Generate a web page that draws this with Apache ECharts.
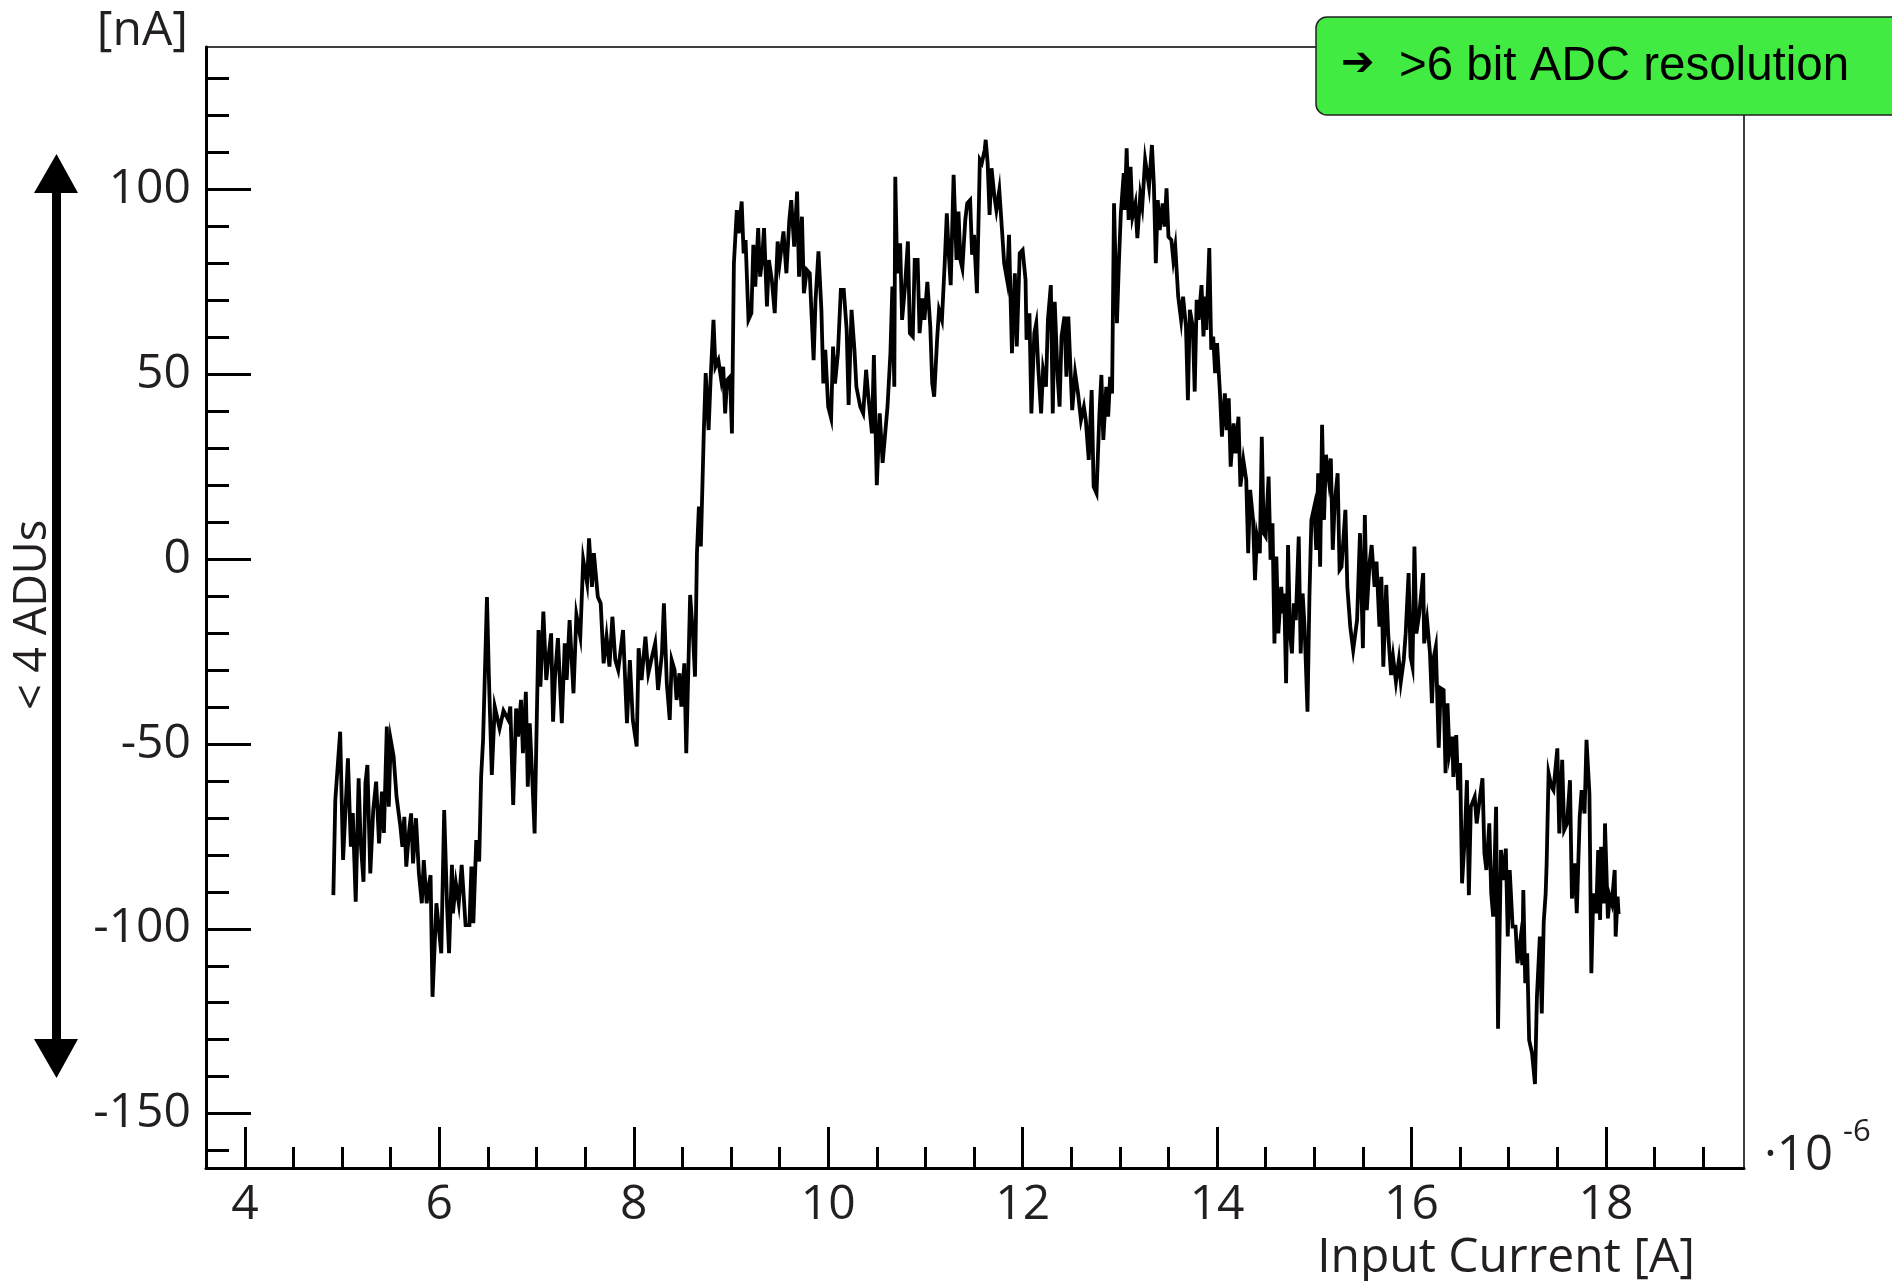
<!DOCTYPE html>
<html>
<head>
<meta charset="utf-8">
<script src="https://cdn.jsdelivr.net/npm/echarts@6/dist/echarts.min.js"></script>
<style>
  html, body { margin: 0; padding: 0; background: #fff; }
  #chart { width: 1892px; height: 1281px; }
</style>
</head>
<body>
<div id="chart"></div>
<script>
// Measured deviation [nA] versus input current [A, x1e-6]
const trace = [
  [4.91,-90.9],[4.93,-65.2],[4.98,-46.7],[5.01,-81.4],[5.06,-53.9],[5.09,-77.8],[5.11,-68.7],[5.14,-92.7],[5.17,-59.3],[5.19,-76],
  [5.22,-87.3],[5.24,-60.6],[5.26,-55.7],[5.29,-85],[5.32,-67.9],[5.35,-60.2],[5.38,-76.9],[5.41,-62.9],[5.43,-74.1],[5.46,-45.3],
  [5.48,-67],[5.50,-48.9],[5.53,-53.4],[5.56,-64.3],[5.60,-72.4],[5.62,-77.8],[5.64,-69.7],[5.66,-83.2],[5.69,-73.3],[5.71,-68.8],
  [5.73,-82.3],[5.76,-70.1],[5.79,-85],[5.82,-93.1],[5.84,-81.4],[5.87,-93.1],[5.89,-88.6],[5.91,-85.5],[5.93,-118.4],[5.97,-93.1],
  [6.00,-101.2],[6.02,-106.6],[6.05,-67.9],[6.08,-94],[6.10,-106.6],[6.13,-82.7],[6.14,-95.8],[6.17,-87.7],[6.20,-93.1],[6.23,-82.7],
  [6.27,-99],[6.31,-99],[6.33,-83.2],[6.35,-98.5],[6.38,-76],[6.41,-81.8],[6.43,-58.9],[6.45,-48.9],[6.49,-10.3],[6.51,-32],
  [6.54,-58.4],[6.57,-39.9],[6.62,-45.8],[6.66,-41],[6.71,-43.5],[6.73,-39.9],[6.76,-66.5],[6.79,-40.4],[6.81,-48],[6.84,-38.1],
  [6.86,-52.5],[6.89,-35.9],[6.91,-61.6],[6.93,-44.4],[6.96,-61.6],[6.98,-74.2],[7.02,-19.2],[7.04,-34.5],[7.07,-14.2],[7.10,-32.7],
  [7.12,-27.3],[7.15,-20.1],[7.17,-44],[7.19,-31.8],[7.22,-21.4],[7.26,-44.4],[7.29,-22.8],[7.31,-32.7],[7.34,-16.5],[7.38,-36.3],
  [7.41,-15.1],[7.45,-21],[7.48,-0.2],[7.52,-6.5],[7.54,5.6],[7.57,-7.5],[7.59,1.6],[7.63,-10.2],[7.66,-12],[7.69,-28.2],
  [7.72,-21],[7.75,-29.1],[7.78,-15.6],[7.81,-27.3],[7.84,-30],[7.89,-19.2],[7.93,-44.4],[7.96,-27.3],[7.99,-43.5],[8.03,-50.7],
  [8.05,-24.1],[8.08,-32.7],[8.12,-21],[8.15,-30.9],[8.18,-27.3],[8.22,-22.8],[8.25,-35.4],[8.29,-25.5],[8.31,-12],[8.34,-33.6],
  [8.37,-43.5],[8.39,-27.3],[8.42,-30],[8.44,-38.1],[8.47,-30.9],[8.49,-39.9],[8.52,-28.2],[8.54,-52.5],[8.58,-9.7],[8.61,-21],
  [8.63,-31.8],[8.65,1.6],[8.67,14.2],[8.69,3.4],[8.72,34],[8.74,50.3],[8.77,34.9],[8.79,48.4],[8.82,64.7],[8.84,52],
  [8.87,53.8],[8.90,48.4],[8.92,52],[8.94,39.4],[8.96,48.4],[8.99,49.3],[9.01,34],[9.03,80],[9.06,94.4],[9.08,88.1],
  [9.11,96.7],[9.13,82.7],[9.15,86.3],[9.18,64.7],[9.21,66.5],[9.23,85],[9.25,73.7],[9.28,89.5],[9.30,76.4],[9.32,80.9],
  [9.34,89.5],[9.37,68.3],[9.39,80.9],[9.42,75.5],[9.45,66.5],[9.48,85.9],[9.50,80],[9.54,88.6],[9.57,77.3],[9.60,91.7],
  [9.62,97.1],[9.65,84.5],[9.68,99.4],[9.70,76.4],[9.73,92.6],[9.75,71.9],[9.78,78.2],[9.81,77.3],[9.85,53.8],[9.87,70.1],
  [9.90,83.2],[9.93,67.4],[9.95,47.5],[9.97,56.6],[10.00,41.2],[10.03,38.1],[10.05,57.5],[10.07,47.5],[10.10,55.7],[10.13,72.8],
  [10.16,72.8],[10.19,62],[10.21,41.7],[10.24,67.4],[10.27,56.6],[10.29,46.6],[10.33,41.2],[10.36,39.4],[10.39,51.2],[10.41,44.8],
  [10.45,34],[10.47,55.2],[10.50,20],[10.53,39.4],[10.56,26],[10.61,41.2],[10.64,55.7],[10.66,73.7],[10.68,46.6],[10.69,103.4],
  [10.71,77.3],[10.74,85.4],[10.76,64.7],[10.79,73.7],[10.82,85.9],[10.84,61.1],[10.87,60.2],[10.89,80.9],[10.92,80.9],[10.94,61.1],
  [10.97,70.5],[10.99,64.7],[11.02,75],[11.05,62.9],[11.07,47.5],[11.09,43.9],[11.12,59.3],[11.14,67.4],[11.17,64.7],[11.20,80.9],
  [11.22,93.5],[11.24,82.7],[11.26,74.1],[11.29,103.9],[11.32,80.9],[11.34,94],[11.36,80.9],[11.38,78.6],[11.41,91.7],[11.43,96.2],
  [11.46,97.1],[11.48,82.3],[11.50,87.7],[11.53,71.9],[11.56,108],[11.58,107.1],[11.61,110.7],[11.62,113.4],[11.64,107.1],[11.66,93.1],
  [11.68,105.7],[11.71,98],[11.73,94.4],[11.76,99.8],[11.79,88.1],[11.81,80],[11.84,75.5],[11.86,87.7],[11.89,55.7],[11.92,77.3],
  [11.94,57.5],[11.97,82.7],[12.00,83.6],[12.03,75.5],[12.04,59.3],[12.07,66.5],[12.09,39.4],[12.12,61.1],[12.14,63.8],[12.16,52],
  [12.19,39.4],[12.21,51.2],[12.24,46.6],[12.26,64.7],[12.29,74.1],[12.31,39.4],[12.33,69.6],[12.36,49.3],[12.38,41.2],[12.40,60.2],
  [12.43,65.6],[12.45,49.3],[12.47,65.6],[12.51,40.3],[12.54,50.3],[12.57,44.8],[12.60,37.6],[12.63,41.2],[12.65,37.6],[12.68,26.8],
  [12.71,45.7],[12.73,19.6],[12.76,17.8],[12.79,39.4],[12.81,49.8],[12.83,32.2],[12.86,46.6],[12.88,38.5],[12.90,49.3],[12.92,44.8],
  [12.94,96.2],[12.97,63.8],[12.99,80],[13.01,93.5],[13.04,104.4],[13.05,94.4],[13.07,111.1],[13.09,91.7],[13.11,106.1],[13.13,92.6],
  [13.16,96.2],[13.18,86.8],[13.21,98.5],[13.23,95.3],[13.26,108],[13.28,104.4],[13.30,100.7],[13.33,112],[13.35,101.2],[13.37,80],
  [13.39,97.1],[13.41,89],[13.44,96.2],[13.46,89.9],[13.48,100.3],[13.50,87.2],[13.53,86.3],[13.55,80.9],[13.57,84.5],[13.60,71],
  [13.63,64.7],[13.65,71],[13.68,62.9],[13.70,43],[13.72,67.4],[13.75,62.9],[13.77,45.3],[13.79,70.1],[13.81,64.7],[13.84,74.1],
  [13.86,60.2],[13.88,71],[13.89,62],[13.92,84.1],[13.94,56.6],[13.96,60.2],[13.98,50.3],[14.00,58.4],[14.03,44.8],[14.05,33.1],
  [14.08,44.8],[14.10,34.9],[14.12,43.5],[14.14,25],[14.17,36.7],[14.19,28.6],[14.22,38.5],[14.24,19.6],[14.27,26.8],[14.30,21.4],
  [14.32,1.6],[14.34,18.7],[14.37,10.6],[14.39,-5.7],[14.41,6.1],[14.44,1.6],[14.46,33.1],[14.48,7],[14.50,6.1],[14.53,22.3],
  [14.55,-0.2],[14.57,9.7],[14.59,-22.8],[14.61,0.7],[14.63,-20.1],[14.66,-7.5],[14.68,-14.7],[14.69,-9.3],[14.71,-33.6],[14.73,3.8],
  [14.75,-20.1],[14.77,-25.5],[14.79,-12],[14.81,-16.5],[14.84,6.1],[14.86,-25.5],[14.88,-9.3],[14.90,-18.3],[14.93,-41.3],[14.95,-10.2],
  [14.97,10.6],[15.00,14.2],[15.02,2.5],[15.04,23.2],[15.06,-2.1],[15.08,36.3],[15.10,10.6],[15.12,28.2],[15.15,21.4],[15.17,27.2],
  [15.19,2.5],[15.21,15.1],[15.24,23.2],[15.26,-2.9],[15.28,-2.1],[15.32,13.3],[15.34,-7.5],[15.37,-18.3],[15.40,-24.6],[15.44,-16.5],
  [15.47,7],[15.50,-24.1],[15.52,11.9],[15.54,-13.8],[15.57,-0.7],[15.59,3.8],[15.62,-7.5],[15.64,-0.7],[15.67,-18.3],[15.69,-4.8],
  [15.71,-29.1],[15.74,-7],[15.76,-20.1],[15.79,-31.4],[15.81,-26.4],[15.84,-33.2],[15.87,-27.3],[15.89,-33.2],[15.92,-27.3],[15.94,-20.1],
  [15.97,-3.8],[15.99,-26.4],[16.01,-29.1],[16.03,3.4],[16.05,-20.1],[16.08,-14.7],[16.12,-3.8],[16.13,-22.8],[16.16,-16.5],[16.19,-25.5],
  [16.21,-39],[16.23,-26.4],[16.25,-23.7],[16.28,-51],[16.30,-34.9],[16.33,-35.4],[16.35,-57.9],[16.37,-39],[16.39,-52.5],[16.42,-48],
  [16.43,-58.9],[16.46,-47.6],[16.48,-62.5],[16.50,-55.2],[16.52,-87.7],[16.55,-74.2],[16.57,-59.8],[16.59,-90.9],[16.61,-67],[16.65,-64.3],
  [16.67,-71.5],[16.70,-65.2],[16.73,-59.3],[16.75,-79.6],[16.77,-84.1],[16.80,-71.5],[16.82,-90.4],[16.84,-96.7],[16.87,-67],[16.89,-127],
  [16.92,-78.7],[16.95,-86.8],[16.97,-78.3],[16.99,-102.1],[17.01,-84.1],[17.04,-99.4],[17.07,-99.4],[17.09,-109.3],[17.12,-103],[17.14,-109.8],
  [17.15,-89.5],[17.17,-114.7],[17.19,-106.6],[17.21,-130.1],[17.24,-133.7],[17.27,-142],[17.29,-118.4],[17.32,-102.1],[17.34,-122.9],[17.36,-98.1],
  [17.38,-90.4],[17.39,-82.3],[17.41,-57.9],[17.44,-61.6],[17.46,-62.5],[17.50,-51.2],[17.52,-74.2],[17.55,-54.3],[17.57,-73.3],[17.60,-71.5],
  [17.63,-59.8],[17.65,-91.8],[17.68,-82.3],[17.70,-95.8],[17.73,-69.7],[17.75,-62.5],[17.78,-68.8],[17.80,-48.9],[17.83,-63.4],[17.85,-112],
  [17.87,-90.4],[17.90,-95.8],[17.92,-78.7],[17.94,-97.6],[17.95,-77.8],[17.98,-93.1],[17.99,-71.5],[18.02,-97.2],[18.04,-91.3],[18.06,-93.1],
  [18.09,-84.1],[18.10,-102.1],[18.12,-91.3],[18.13,-96]
];

// Axis ticks
const xMajorTicks = [4, 6, 8, 10, 12, 14, 16, 18];
const xMinorTicks = [4.5, 5, 5.5, 6.5, 7, 7.5, 8.5, 9, 9.5, 10.5, 11, 11.5, 12.5, 13, 13.5, 14.5, 15, 15.5, 16.5, 17, 17.5, 18.5, 19];
const yMajorTicks = [-150, -100, -50, 0, 50, 100];
const yMinorTicks = [-160, -140, -130, -120, -110, -90, -80, -70, -60, -40, -30, -20, -10,
                     10, 20, 30, 40, 60, 70, 80, 90, 110, 120, 130];

// Texts
const xTitle = 'Input Current [A]';
const yUnit = '[nA]';
const xScaleBase = '·10';
const xScaleExp = '-6';
const rangeNote = '< 4 ADUs';
const noteArrow = '➔';
const noteText = '>6 bit ADC resolution';

const X_MIN = 3.6, X_MAX = 19.42;
const Y_MIN = -164.7, Y_MAX = 138.5;

const INK = '#231f20';
const LABEL_FONT = '"Open Sans", "Noto Sans", sans-serif';

const chart = echarts.init(document.getElementById('chart'), null, { renderer: 'canvas' });

const tickStyle = { color: '#000', width: 3 };

function xAxisDef(ticks, len, withLine, withLabels) {
  return {
    type: 'value', min: X_MIN, max: X_MAX, position: 'bottom',
    axisLine: { show: withLine, onZero: false, lineStyle: { color: '#000', width: 3 } },
    axisTick: { show: true, inside: true, length: len, customValues: ticks, lineStyle: tickStyle },
    axisLabel: withLabels ? {
      show: true, customValues: ticks, margin: 13,
      fontFamily: LABEL_FONT, fontSize: 48, color: INK
    } : { show: false },
    splitLine: { show: false }
  };
}
function yAxisDef(ticks, len, withLine, withLabels) {
  return {
    type: 'value', min: Y_MIN, max: Y_MAX, position: 'left',
    axisLine: { show: withLine, onZero: false, lineStyle: { color: '#000', width: 3 } },
    axisTick: { show: true, inside: true, length: len, customValues: ticks, lineStyle: tickStyle },
    axisLabel: withLabels ? {
      show: true, customValues: ticks, margin: 15,
      fontFamily: LABEL_FONT, fontSize: 48, color: INK
    } : { show: false },
    splitLine: { show: false }
  };
}

const option = {
  animation: false,
  backgroundColor: '#fff',
  grid: {
    left: 206, right: 148, top: 47, bottom: 113,
    show: true, borderColor: '#000', borderWidth: 1.5, backgroundColor: 'transparent'
  },
  xAxis: [
    xAxisDef(xMajorTicks, 41, true, true),
    xAxisDef(xMinorTicks, 21, false, false)
  ],
  yAxis: [
    yAxisDef(yMajorTicks, 45, true, true),
    yAxisDef(yMinorTicks, 23, false, false)
  ],
  series: [{
    type: 'line',
    xAxisIndex: 0, yAxisIndex: 0,
    data: trace,
    showSymbol: false,
    clip: true,
    lineStyle: { color: '#000', width: 3.8, join: 'miter' }
  }],
  graphic: [
    // unit of the vertical axis
    { type: 'text', x: 188, y: 31, style: { text: yUnit, align: 'right', verticalAlign: 'middle',
      fontFamily: LABEL_FONT, fontSize: 48, fill: INK } },
    // horizontal axis title
    { type: 'text', x: 1695, y: 1258, style: { text: xTitle, align: 'right', verticalAlign: 'middle',
      fontFamily: LABEL_FONT, fontSize: 48, fill: INK } },
    // axis multiplier
    { type: 'text', x: 1764, y: 1156, style: { text: xScaleBase, align: 'left', verticalAlign: 'middle',
      fontFamily: LABEL_FONT, fontSize: 49, fill: INK } },
    { type: 'text', x: 1843, y: 1132, style: { text: xScaleExp, align: 'left', verticalAlign: 'middle',
      fontFamily: LABEL_FONT, fontSize: 31, fill: INK } },
    // double-headed range arrow
    { type: 'rect', shape: { x: 52, y: 190, width: 9, height: 852 }, style: { fill: '#000' } },
    { type: 'polygon', shape: { points: [[34, 193], [78, 193], [56.5, 154]] }, style: { fill: '#000' } },
    { type: 'polygon', shape: { points: [[34, 1039], [78, 1039], [56.5, 1078]] }, style: { fill: '#000' } },
    { type: 'text', x: 33, y: 615, rotation: Math.PI / 2,
      style: { text: rangeNote, x: 0, y: 0, align: 'center', verticalAlign: 'middle',
        fontFamily: LABEL_FONT, fontSize: 45, fill: INK } },
    // resolution note
    { type: 'rect', z: 100, shape: { x: 1316, y: 17, width: 620, height: 98, r: 11 },
      style: { fill: '#41eb41', stroke: '#222', lineWidth: 1.5 } },
    { type: 'text', z: 101, x: 1341, y: 65, style: { text: noteArrow, align: 'left', verticalAlign: 'middle',
      fontFamily: '"DejaVu Sans", sans-serif', fontWeight: 'bold', fontSize: 40, fill: '#000' } },
    { type: 'text', z: 101, x: 1399, y: 67, style: { text: noteText, align: 'left', verticalAlign: 'middle',
      fontFamily: '"Liberation Sans", Arial, sans-serif', fontSize: 47.5, fill: '#000' } }
  ]
};

chart.setOption(option);
</script>
</body>
</html>
